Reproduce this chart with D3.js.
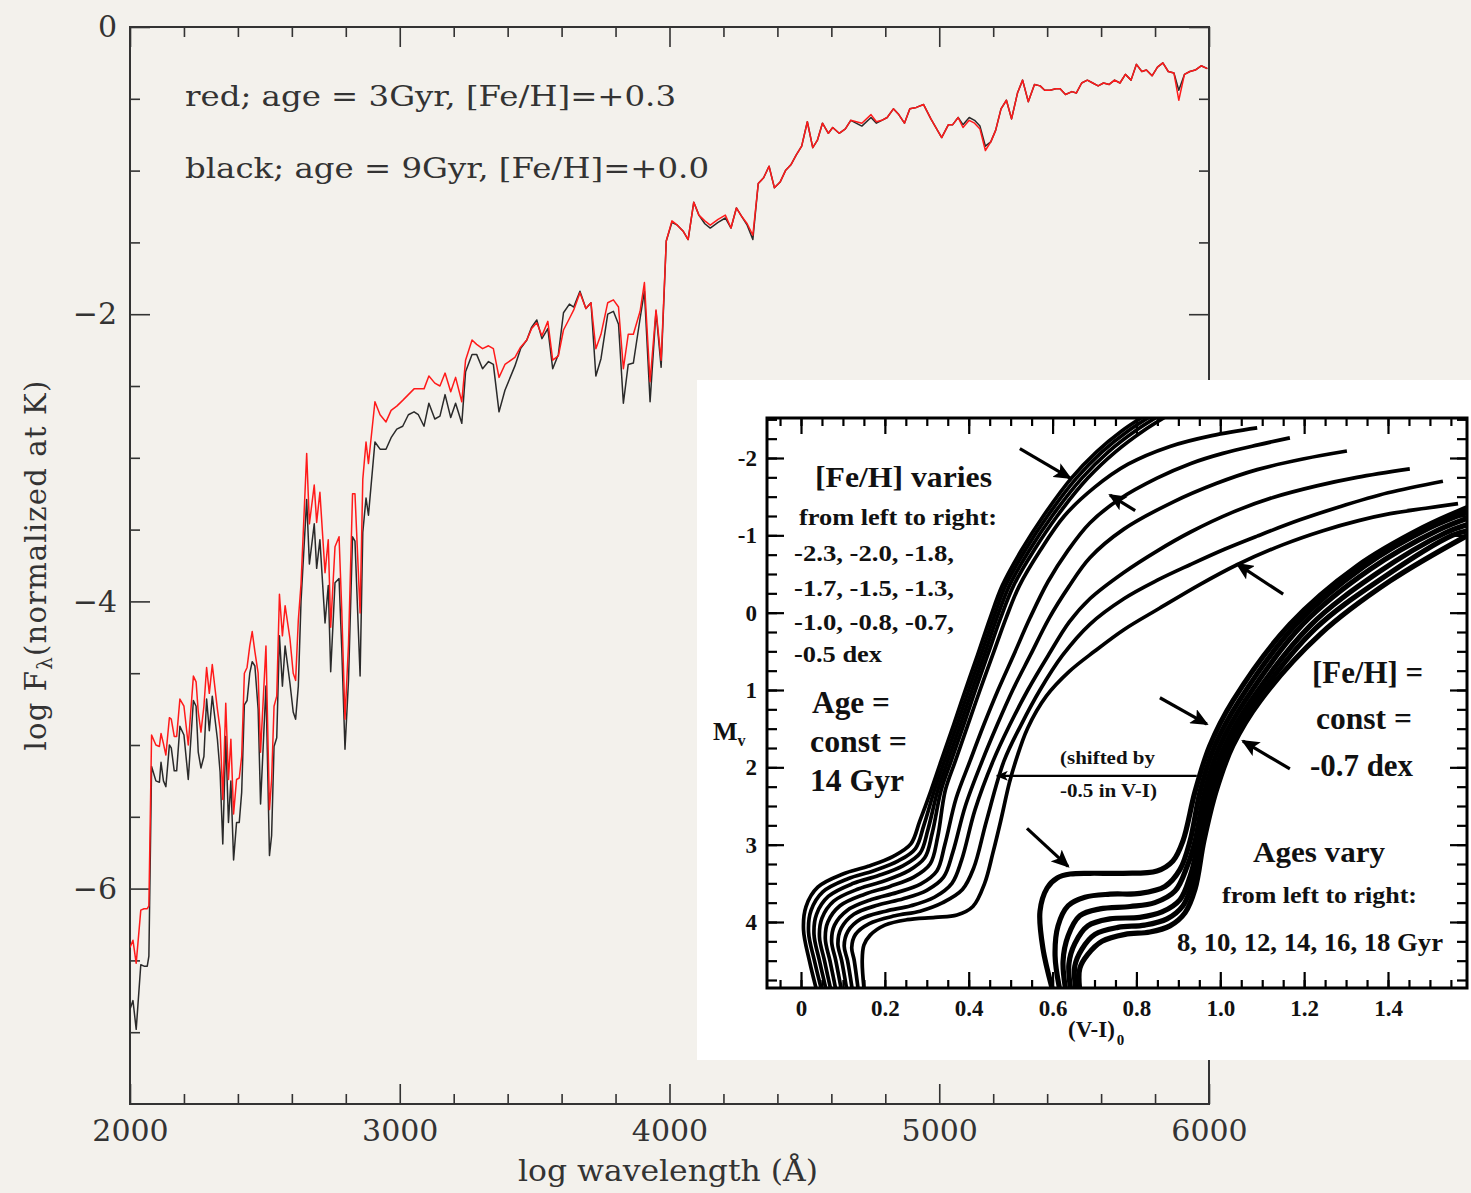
<!DOCTYPE html>
<html lang="en">
<head>
<meta charset="UTF-8">
<title>spectra + isochrones</title>
<script src="https://d3js.org/d3.v7.min.js"></script>
<style>
body{margin:0;background:#f3f1ec;}
</style>
</head>
<body>
<script>
// ---- spectrum data (log wavelength axis labelled in A, log flux normalised at K)
var wave=[
2000,2011,2023,2040,2052,2064,2070,2080,2096,2109,
2115,2124,2133,2146,2153,2164,2173,2185,2200,2216,
2235,2245,2253,2263,2274,2284,2294,2305,2324,2334,
2344,2355,2365,2374,2384,2395,2405,2414,2424,2434,
2444,2453,2463,2475,2484,2504,2517,2525,2534,2544,
2554,2565,2575,2593,2605,2614,2624,2634,2655,2665,
2683,2692,2704,2723,2735,2744,2760,2775,2785,2797,
2810,2825,2834,2853,2863,2875,2884,2908,2927,2949,
2968,2989,3011,3032,3053,3069,3090,3108,3130,3149,
3168,3189,3207,3230,3244,3268,3285,3307,3329,3347,
3368,3390,3427,3448,3471,3489,3508,3527,3549,3567,
3588,3607,3629,3645,3668,3690,3709,3727,3746,3771,
3792,3811,3829,3847,3866,3891,3907,3928,3950,3969,
3988,4009,4029,4050,4069,4090,4109,4131,4151,4180,
4207,4228,4248,4268,4288,4309,4329,4349,4369,4389,
4410,4430,4450,4470,4490,4511,4531,4548,4567,4589,
4605,4629,4652,4672,4713,4747,4767,4787,4807,4830,
4850,4871,4891,4915,4942,4969,5009,5034,5050,5070,
5088,5111,5131,5151,5171,5191,5209,5229,5249,5268,
5290,5309,5330,5353,5374,5391,5411,5432,5448,5468,
5492,5508,5528,5549,5569,5589,5609,5630,5650,5670,
5690,5711,5731,5751,5768,5789,5809,5829,5849,5870,
5888,5909,5929,5949,5971,5994];

// red: age = 3Gyr, [Fe/H]=+0.3
var fluxRed=[
-6.41,-6.36,-6.52,-6.15,-6.14,-6.14,-6.12,-4.93,-5.00,-5.01,
-4.92,-4.99,-5.07,-4.81,-4.82,-4.94,-4.94,-4.68,-4.73,-5.00,
-4.52,-4.56,-4.77,-4.91,-4.73,-4.46,-4.64,-4.44,-4.75,-4.89,
-5.38,-4.71,-5.24,-4.96,-5.48,-5.24,-5.23,-5.08,-4.50,-4.46,
-4.31,-4.21,-4.35,-4.50,-5.05,-4.31,-5.45,-5.24,-4.73,-4.66,
-3.95,-4.24,-4.03,-4.26,-4.50,-4.55,-4.13,-3.88,-2.97,-3.46,
-3.19,-3.45,-3.24,-3.80,-3.57,-4.18,-3.62,-3.55,-4.06,-4.82,
-4.30,-3.25,-3.25,-4.08,-3.15,-2.89,-3.04,-2.61,-2.70,-2.75,
-2.67,-2.64,-2.60,-2.56,-2.52,-2.52,-2.52,-2.43,-2.48,-2.50,
-2.41,-2.54,-2.44,-2.61,-2.32,-2.18,-2.21,-2.24,-2.22,-2.24,
-2.44,-2.35,-2.30,-2.23,-2.18,-2.10,-2.06,-2.15,-2.05,-2.32,
-2.29,-2.11,-2.03,-1.97,-1.85,-1.96,-1.92,-2.24,-2.14,-1.92,
-1.90,-1.95,-2.38,-2.14,-2.14,-1.98,-1.78,-2.47,-1.97,-2.32,
-1.49,-1.35,-1.38,-1.42,-1.48,-1.22,-1.31,-1.35,-1.38,-1.34,
-1.31,-1.40,-1.26,-1.32,-1.37,-1.45,-1.09,-1.05,-0.97,-1.12,
-1.08,-1.00,-0.96,-0.89,-0.83,-0.66,-0.84,-0.79,-0.67,-0.74,
-0.70,-0.74,-0.71,-0.65,-0.67,-0.61,-0.66,-0.65,-0.63,-0.57,
-0.61,-0.67,-0.57,-0.56,-0.54,-0.64,-0.77,-0.68,-0.68,-0.63,
-0.70,-0.65,-0.67,-0.71,-0.86,-0.80,-0.72,-0.57,-0.51,-0.64,
-0.46,-0.37,-0.52,-0.40,-0.41,-0.44,-0.44,-0.43,-0.43,-0.47,
-0.45,-0.46,-0.39,-0.37,-0.39,-0.41,-0.39,-0.40,-0.37,-0.39,
-0.33,-0.37,-0.26,-0.31,-0.30,-0.34,-0.28,-0.25,-0.31,-0.32,
-0.51,-0.33,-0.31,-0.30,-0.27,-0.29];

// black: age = 9Gyr, [Fe/H]=+0.0
var fluxBlack=[
-6.84,-6.78,-6.98,-6.53,-6.54,-6.54,-6.47,-5.15,-5.25,-5.26,
-5.12,-5.25,-5.29,-5.00,-5.02,-5.18,-5.18,-4.87,-4.93,-5.24,
-4.69,-4.73,-5.05,-5.16,-5.08,-4.68,-4.90,-4.66,-4.96,-5.19,
-5.69,-4.94,-5.54,-5.25,-5.80,-5.54,-5.54,-5.33,-4.72,-4.69,
-4.50,-4.42,-4.45,-4.75,-5.41,-4.59,-5.77,-5.63,-5.01,-4.95,
-4.24,-4.59,-4.31,-4.57,-4.77,-4.82,-4.59,-4.00,-3.29,-3.74,
-3.46,-3.77,-3.57,-4.15,-3.89,-4.49,-3.87,-3.84,-4.33,-5.03,
-4.55,-3.55,-3.58,-4.52,-3.52,-3.28,-3.40,-2.89,-2.94,-2.94,
-2.86,-2.80,-2.78,-2.70,-2.68,-2.70,-2.78,-2.62,-2.73,-2.71,
-2.56,-2.72,-2.62,-2.76,-2.40,-2.28,-2.28,-2.38,-2.33,-2.35,
-2.68,-2.53,-2.36,-2.24,-2.18,-2.09,-2.04,-2.17,-2.10,-2.38,
-2.28,-1.99,-1.93,-1.95,-1.84,-1.96,-1.92,-2.43,-2.31,-2.00,
-1.98,-2.07,-2.62,-2.35,-2.34,-2.03,-1.84,-2.61,-1.98,-2.37,
-1.49,-1.36,-1.38,-1.42,-1.48,-1.22,-1.31,-1.37,-1.40,-1.36,
-1.33,-1.40,-1.26,-1.32,-1.38,-1.48,-1.09,-1.05,-0.97,-1.12,
-1.08,-1.00,-0.96,-0.89,-0.83,-0.66,-0.84,-0.79,-0.67,-0.74,
-0.70,-0.74,-0.71,-0.65,-0.69,-0.63,-0.67,-0.65,-0.63,-0.57,
-0.61,-0.67,-0.57,-0.56,-0.54,-0.64,-0.77,-0.68,-0.68,-0.63,
-0.68,-0.63,-0.65,-0.69,-0.83,-0.80,-0.72,-0.57,-0.51,-0.64,
-0.46,-0.37,-0.52,-0.40,-0.41,-0.44,-0.44,-0.43,-0.43,-0.47,
-0.45,-0.46,-0.39,-0.37,-0.39,-0.41,-0.39,-0.40,-0.37,-0.39,
-0.33,-0.37,-0.26,-0.31,-0.30,-0.34,-0.28,-0.25,-0.31,-0.32,
-0.44,-0.33,-0.31,-0.30,-0.27,-0.29];

var xMajor=[2000,3000,4000,5000,6000];
var yMajor=[0,-2,-4,-6];
var legendLines=["red; age = 3Gyr, [Fe/H]=+0.3","black; age = 9Gyr, [Fe/H]=+0.0"];

// ---- inset: isochrones, (V-I)0 vs Mv
// [Fe/H] varies, age 14 Gyr
var fehLabels=["-2.3","-2.0","-1.8","-1.7","-1.5","-1.3","-1.0","-0.8","-0.7","-0.5"];
var fehCurves=[
[[0.038,4.9],[0.020,4.5],[0.006,4.1],[0.012,3.8],[0.040,3.55],[0.100,3.38],[0.160,3.28],[0.220,3.15],[0.262,2.99],[0.283,2.70],[0.310,2.30],[0.334,1.92],[0.364,1.45],[0.392,1.00],[0.421,0.55],[0.451,0.07],[0.480,-0.35],[0.525,-0.80],[0.578,-1.25],[0.645,-1.74],[0.705,-2.08],[0.765,-2.35],[0.835,-2.60]],
[[0.050,4.9],[0.032,4.5],[0.018,4.13],[0.024,3.85],[0.052,3.61],[0.112,3.44],[0.172,3.34],[0.232,3.21],[0.273,3.05],[0.293,2.75],[0.318,2.30],[0.342,1.92],[0.372,1.45],[0.400,1.00],[0.429,0.55],[0.459,0.07],[0.488,-0.35],[0.534,-0.80],[0.588,-1.25],[0.657,-1.74],[0.718,-2.08],[0.780,-2.35],[0.852,-2.60]],
[[0.061,4.9],[0.044,4.5],[0.031,4.16],[0.037,3.90],[0.065,3.67],[0.125,3.50],[0.185,3.40],[0.244,3.27],[0.284,3.11],[0.303,2.80],[0.326,2.30],[0.350,1.92],[0.380,1.45],[0.408,1.00],[0.437,0.55],[0.467,0.07],[0.497,-0.35],[0.544,-0.80],[0.599,-1.25],[0.670,-1.74],[0.733,-2.08],[0.797,-2.35],[0.870,-2.60]],
[[0.072,4.9],[0.056,4.5],[0.044,4.19],[0.050,3.95],[0.078,3.73],[0.138,3.57],[0.198,3.47],[0.256,3.34],[0.295,3.17],[0.313,2.85],[0.334,2.30],[0.358,1.92],[0.388,1.45],[0.416,1.00],[0.445,0.55],[0.476,0.07],[0.507,-0.35],[0.555,-0.80],[0.611,-1.25],[0.684,-1.74],[0.750,-2.08],[0.816,-2.35],[0.890,-2.60]],
[[0.084,4.9],[0.069,4.5],[0.058,4.22],[0.064,4.00],[0.093,3.79],[0.152,3.64],[0.212,3.54],[0.269,3.42],[0.308,3.25],[0.326,2.90],[0.344,2.30],[0.368,1.92],[0.398,1.45],[0.427,1.00],[0.457,0.55],[0.489,0.07],[0.521,-0.35],[0.570,-0.80],[0.628,-1.25],[0.700,-1.62],[0.780,-1.92],[0.880,-2.15],[0.980,-2.29],[1.088,-2.39]],
[[0.097,4.9],[0.083,4.5],[0.073,4.25],[0.080,4.04],[0.110,3.85],[0.168,3.71],[0.228,3.62],[0.285,3.51],[0.324,3.34],[0.343,3.00],[0.370,2.40],[0.403,1.92],[0.436,1.45],[0.470,1.00],[0.507,0.55],[0.546,0.07],[0.589,-0.40],[0.636,-0.80],[0.689,-1.16],[0.760,-1.47],[0.849,-1.74],[0.930,-1.93],[1.006,-2.06],[1.090,-2.17],[1.166,-2.26]],
[[0.110,4.9],[0.097,4.5],[0.088,4.28],[0.096,4.08],[0.126,3.90],[0.184,3.78],[0.244,3.70],[0.300,3.59],[0.340,3.42],[0.362,3.10],[0.392,2.50],[0.432,1.92],[0.468,1.45],[0.505,1.00],[0.547,0.55],[0.592,0.07],[0.638,-0.33],[0.689,-0.71],[0.770,-1.08],[0.887,-1.43],[0.990,-1.67],[1.088,-1.85],[1.200,-1.99],[1.302,-2.09]],
[[0.123,4.9],[0.111,4.5],[0.103,4.31],[0.112,4.12],[0.143,3.96],[0.202,3.86],[0.262,3.79],[0.318,3.68],[0.360,3.50],[0.383,3.20],[0.415,2.55],[0.458,1.92],[0.498,1.45],[0.541,1.00],[0.590,0.55],[0.640,0.12],[0.689,-0.18],[0.770,-0.52],[0.850,-0.80],[0.928,-1.04],[1.030,-1.30],[1.126,-1.49],[1.230,-1.64],[1.326,-1.75],[1.452,-1.86]],
[[0.137,4.9],[0.127,4.5],[0.121,4.33],[0.130,4.16],[0.163,4.02],[0.224,3.92],[0.284,3.86],[0.338,3.75],[0.385,3.58],[0.412,3.30],[0.442,2.70],[0.484,1.92],[0.525,1.45],[0.570,1.00],[0.624,0.55],[0.689,0.15],[0.770,-0.18],[0.850,-0.42],[0.928,-0.62],[1.010,-0.82],[1.088,-0.99],[1.190,-1.20],[1.285,-1.37],[1.400,-1.55],[1.531,-1.70]],
[[0.151,4.9],[0.146,4.5],[0.150,4.30],[0.165,4.17],[0.200,4.04],[0.253,3.97],[0.320,3.94],[0.372,3.91],[0.410,3.80],[0.438,3.50],[0.458,3.10],[0.476,2.70],[0.497,2.20],[0.512,1.92],[0.540,1.50],[0.585,1.08],[0.640,0.76],[0.700,0.50],[0.770,0.22],[0.856,-0.06],[0.950,-0.36],[1.040,-0.62],[1.150,-0.88],[1.245,-1.06],[1.330,-1.19],[1.405,-1.28],[1.490,-1.35],[1.567,-1.41]]
];
// [Fe/H] = -0.7, ages vary (drawn shifted in V-I)
var ageLabels=[8,10,12,14,16,18];
var ageCurves=[
[[0.601,4.9],[0.577,4.34],[0.570,3.86],[0.587,3.56],[0.611,3.43],[0.642,3.38],[0.689,3.37],[0.768,3.37],[0.849,3.34],[0.887,3.21],[0.911,2.95],[0.940,2.31],[0.975,1.72],[1.030,1.14],[1.166,0.15],[1.326,-0.60],[1.483,-1.10],[1.590,-1.36]],
[[0.618,4.9],[0.606,4.44],[0.613,4.05],[0.637,3.79],[0.677,3.68],[0.737,3.64],[0.808,3.63],[0.868,3.54],[0.904,3.32],[0.928,2.95],[0.952,2.31],[0.987,1.72],[1.045,1.14],[1.181,0.15],[1.343,-0.60],[1.500,-1.10],[1.590,-1.30]],
[[0.632,4.9],[0.625,4.51],[0.637,4.18],[0.665,3.92],[0.713,3.83],[0.785,3.80],[0.844,3.75],[0.892,3.60],[0.921,3.28],[0.940,2.95],[0.963,2.31],[0.999,1.72],[1.059,1.14],[1.197,0.15],[1.357,-0.56],[1.517,-1.06],[1.590,-1.22]],
[[0.644,4.9],[0.639,4.54],[0.653,4.28],[0.684,4.05],[0.737,3.96],[0.808,3.94],[0.861,3.87],[0.904,3.71],[0.928,3.41],[0.949,2.95],[0.973,2.31],[1.011,1.72],[1.073,1.14],[1.214,0.17],[1.374,-0.51],[1.536,-1.03],[1.590,-1.14]],
[[0.656,4.9],[0.653,4.57],[0.670,4.35],[0.701,4.16],[0.756,4.07],[0.820,4.04],[0.873,3.96],[0.911,3.79],[0.933,3.50],[0.954,2.95],[0.980,2.31],[1.021,1.72],[1.085,1.14],[1.226,0.21],[1.390,-0.46],[1.553,-1.00],[1.590,-1.06]],
[[0.665,4.9],[0.665,4.60],[0.684,4.42],[0.718,4.25],[0.773,4.16],[0.832,4.13],[0.880,4.05],[0.916,3.88],[0.940,3.57],[0.961,2.95],[0.990,2.31],[1.030,1.72],[1.095,1.14],[1.238,0.28],[1.405,-0.41],[1.590,-1.00]]
];
var cmdXTicks=[0,0.2,0.4,0.6,0.8,1.0,1.2,1.4];
var cmdYTicks=[-2,-1,0,1,2,3,4];
// arrows [tail, head] in (V-I, Mv)
var arrows=[
[[0.522,-2.12],[0.642,-1.74]],
[[0.797,-1.32],[0.737,-1.52]],
[[1.150,-0.24],[1.040,-0.63]],
[[0.856,1.10],[0.968,1.44]],
[[1.166,2.02],[1.054,1.66]],
[[0.539,2.79],[0.637,3.28]]
];
var shiftArrow=[[0.944,2.11],[0.467,2.11]];

// ======================================================================
var svg=d3.select("body").append("svg").attr("width",1471).attr("height",1193);
svg.append("rect").attr("width",1471).attr("height",1193).attr("fill","#f3f1ec");

var x=d3.scaleLinear().domain([2000,6000]).range([130,1209]);
var y=d3.scaleLinear().domain([-7.5,0]).range([1104,27]);
var ink="#333";
var serif="DejaVu Serif";

function tidy(g,fs){
    g.select(".domain").remove();
    g.selectAll("line").attr("stroke",ink).attr("stroke-width",1.6);
    g.selectAll("text").attr("font-family",serif).attr("font-size",fs).attr("fill",ink);
}
var xMinor=d3.range(2000,6001,200).filter(function(d){return d%1000!==0;});
var yMinor=d3.range(-7,0.01,0.5).filter(function(d){return d%2!==0;});

// bottom
svg.append("g").attr("transform","translate(0,1104)")
    .call(d3.axisBottom(x).tickValues(xMajor).tickSizeInner(-20).tickSizeOuter(0).tickPadding(16).tickFormat(d3.format("d")))
    .call(tidy,30);
svg.append("g").attr("transform","translate(0,1104)")
    .call(d3.axisBottom(x).tickValues(xMinor).tickSizeInner(-10).tickSizeOuter(0).tickFormat(""))
    .call(tidy,30);
// top
svg.append("g").attr("transform","translate(0,27)")
    .call(d3.axisTop(x).tickValues(xMajor).tickSizeInner(-20).tickSizeOuter(0).tickFormat(""))
    .call(tidy,30);
svg.append("g").attr("transform","translate(0,27)")
    .call(d3.axisTop(x).tickValues(xMinor).tickSizeInner(-10).tickSizeOuter(0).tickFormat(""))
    .call(tidy,30);
// left
svg.append("g").attr("transform","translate(130,0)")
    .call(d3.axisLeft(y).tickValues(yMajor).tickSizeInner(-20).tickSizeOuter(0).tickPadding(13)
        .tickFormat(function(d){return d===0?"0":"\u2212"+Math.abs(d);}))
    .call(tidy,30);
svg.append("g").attr("transform","translate(130,0)")
    .call(d3.axisLeft(y).tickValues(yMinor).tickSizeInner(-10).tickSizeOuter(0).tickFormat(""))
    .call(tidy,30);
// right
svg.append("g").attr("transform","translate(1209,0)")
    .call(d3.axisRight(y).tickValues(yMajor).tickSizeInner(-20).tickSizeOuter(0).tickFormat(""))
    .call(tidy,30);
svg.append("g").attr("transform","translate(1209,0)")
    .call(d3.axisRight(y).tickValues(yMinor).tickSizeInner(-10).tickSizeOuter(0).tickFormat(""))
    .call(tidy,30);

svg.append("rect").attr("x",130).attr("y",27).attr("width",1079).attr("height",1077)
    .attr("fill","none").attr("stroke",ink).attr("stroke-width",2);

svg.append("clipPath").attr("id","plotClip").append("rect")
    .attr("x",130).attr("y",27).attr("width",1079).attr("height",1077);

var spec=wave.map(function(w,i){return {w:w,r:fluxRed[i],b:fluxBlack[i]};});
var lineB=d3.line().x(function(d){return x(d.w);}).y(function(d){return y(d.b);});
var lineR=d3.line().x(function(d){return x(d.w);}).y(function(d){return y(d.r);});
var pg=svg.append("g").attr("clip-path","url(#plotClip)");
pg.append("path").datum(spec).attr("d",lineB).attr("fill","none").attr("stroke","#2a2a2a").attr("stroke-width",1.5).attr("stroke-linejoin","round");
pg.append("path").datum(spec).attr("d",lineR).attr("fill","none").attr("stroke","#ff1a1a").attr("stroke-width",1.5).attr("stroke-linejoin","round");

// legend text
svg.selectAll("text.leg").data(legendLines).enter().append("text")
    .attr("class","leg").attr("x",185).attr("y",function(d,i){return 106+i*72;})
    .attr("font-family",serif).attr("font-size",28).attr("fill",ink)
    .attr("textLength",function(d,i){return i===0?491:524;}).attr("lengthAdjust","spacingAndGlyphs")
    .attr("xml:space","preserve").text(function(d){return d;});

// axis titles
svg.append("text").attr("x",668).attr("y",1181).attr("text-anchor","middle")
    .attr("font-family",serif).attr("font-size",30).attr("fill",ink)
    .attr("textLength",300).attr("lengthAdjust","spacingAndGlyphs")
    .text("log wavelength (\u00c5)");
var yl=svg.append("text").attr("transform","translate(46,565) rotate(-90)").attr("text-anchor","middle")
    .attr("font-family",serif).attr("font-size",29).attr("letter-spacing",1.2).attr("fill",ink);
yl.append("tspan").text("log F");
yl.append("tspan").attr("font-size",20).attr("dy",6).text("\u03bb");
yl.append("tspan").attr("dy",-6).text("(normalized at K)");

// ======================================================================
// inset
svg.append("rect").attr("x",697).attr("y",380).attr("width",774).attr("height",680).attr("fill","#ffffff");

var cx=d3.scaleLinear().domain([0,1.4]).range([801,1388]);
var cy=d3.scaleLinear().domain([-2,4]).range([458,922]);
var fL=767,fR=1467,fT=418,fB=988;
var bold="Liberation Serif";

svg.append("clipPath").attr("id","cmdClip").append("rect")
    .attr("x",fL).attr("y",fT).attr("width",fR-fL).attr("height",fB-fT);

var cg=svg.append("g").attr("clip-path","url(#cmdClip)");
var iso=d3.line().x(function(d){return cx(d[0]);}).y(function(d){return cy(d[1]);})
    .curve(d3.curveCatmullRom.alpha(0.5));
cg.selectAll("path.feh").data(fehCurves).enter().append("path").attr("class","feh")
    .attr("d",iso).attr("fill","none").attr("stroke","#000").attr("stroke-width",3.7);
cg.selectAll("path.age").data(ageCurves).enter().append("path").attr("class","age")
    .attr("d",iso).attr("fill","none").attr("stroke","#000").attr("stroke-width",5.2);

// CMD ticks
var vMin=cx.invert(fL),vMax=cx.invert(fR);
var cxMinor=d3.range(-0.05,1.61,0.05).filter(function(d){return d>vMin&&d<vMax;});
var mMin=cy.invert(fT),mMax=cy.invert(fB);
var cyMinor=d3.range(-2.5,4.9,0.25).filter(function(d){return d>mMin&&d<mMax;});
function cmdTidy(g){
    g.select(".domain").remove();
    g.selectAll("line").attr("stroke","#000").attr("stroke-width",2.2);
    g.selectAll("text").attr("font-family",bold).attr("font-weight","bold").attr("font-size",23).attr("fill","#111");
}
svg.append("g").attr("transform","translate(0,"+fB+")")
    .call(d3.axisBottom(cx).tickValues(cxMinor).tickSizeInner(-8).tickSizeOuter(0).tickFormat("")).call(cmdTidy);
svg.append("g").attr("transform","translate(0,"+fB+")")
    .call(d3.axisBottom(cx).tickValues(cmdXTicks).tickSizeInner(-16).tickSizeOuter(0).tickPadding(12)
        .tickFormat(function(d){return d===0?"0":d.toFixed(1);})).call(cmdTidy);
svg.append("g").attr("transform","translate(0,"+fT+")")
    .call(d3.axisTop(cx).tickValues(cxMinor).tickSizeInner(-8).tickSizeOuter(0).tickFormat("")).call(cmdTidy);
svg.append("g").attr("transform","translate(0,"+fT+")")
    .call(d3.axisTop(cx).tickValues(cmdXTicks).tickSizeInner(-16).tickSizeOuter(0).tickFormat("")).call(cmdTidy);
svg.append("g").attr("transform","translate("+fL+",0)")
    .call(d3.axisLeft(cy).tickValues(cyMinor).tickSizeInner(-10).tickSizeOuter(0).tickFormat("")).call(cmdTidy);
svg.append("g").attr("transform","translate("+fL+",0)")
    .call(d3.axisLeft(cy).tickValues(cmdYTicks).tickSizeInner(-17).tickSizeOuter(0).tickPadding(10)
        .tickFormat(function(d){return String(d);})).call(cmdTidy);
svg.append("g").attr("transform","translate("+fR+",0)")
    .call(d3.axisRight(cy).tickValues(cyMinor).tickSizeInner(-10).tickSizeOuter(0).tickFormat("")).call(cmdTidy);
svg.append("g").attr("transform","translate("+fR+",0)")
    .call(d3.axisRight(cy).tickValues(cmdYTicks).tickSizeInner(-17).tickSizeOuter(0).tickFormat("")).call(cmdTidy);

svg.append("rect").attr("x",fL).attr("y",fT).attr("width",fR-fL).attr("height",fB-fT)
    .attr("fill","none").attr("stroke","#000").attr("stroke-width",3);

// arrows
var defs=svg.append("defs");
defs.append("marker").attr("id","ah").attr("markerUnits","userSpaceOnUse")
    .attr("viewBox","0 -8 18 16").attr("refX",16).attr("refY",0)
    .attr("markerWidth",18).attr("markerHeight",16).attr("orient","auto")
    .append("path").attr("d","M0,-8L18,0L0,8L4,0Z").attr("fill","#000");
defs.append("marker").attr("id","ahs").attr("markerUnits","userSpaceOnUse")
    .attr("viewBox","0 -5 12 10").attr("refX",11).attr("refY",0)
    .attr("markerWidth",12).attr("markerHeight",10).attr("orient","auto")
    .append("path").attr("d","M0,-5L12,0L0,5L3,0Z").attr("fill","#000");

svg.selectAll("line.arr").data(arrows).enter().append("line").attr("class","arr")
    .attr("x1",function(d){return cx(d[0][0]);}).attr("y1",function(d){return cy(d[0][1]);})
    .attr("x2",function(d){return cx(d[1][0]);}).attr("y2",function(d){return cy(d[1][1]);})
    .attr("stroke","#000").attr("stroke-width",3.2).attr("marker-end","url(#ah)");
svg.append("line")
    .attr("x1",cx(shiftArrow[0][0])).attr("y1",cy(shiftArrow[0][1]))
    .attr("x2",cx(shiftArrow[1][0])).attr("y2",cy(shiftArrow[1][1]))
    .attr("stroke","#000").attr("stroke-width",2.2).attr("marker-end","url(#ahs)");

// inset annotations
var notes=[
 {t:"[Fe/H] varies",x:815,y:487,s:30,w:177},
 {t:"from left to right:",x:799,y:525,s:24,w:198},
 {t:"-2.3, -2.0, -1.8,",x:794,y:561,s:24,w:160},
 {t:"-1.7, -1.5, -1.3,",x:794,y:596,s:24,w:160},
 {t:"-1.0, -0.8, -0.7,",x:794,y:630,s:24,w:160},
 {t:"-0.5 dex",x:794,y:662,s:24,w:88},
 {t:"Age =",x:812,y:713,s:31,w:78},
 {t:"const =",x:810,y:752,s:31,w:97},
 {t:"14 Gyr",x:810,y:791,s:31,w:94},
 {t:"(shifted by",x:1060,y:764,s:18,w:95},
 {t:"-0.5 in V-I)",x:1060,y:797,s:18,w:97},
 {t:"[Fe/H] =",x:1312,y:683,s:31,w:111},
 {t:"const =",x:1316,y:729,s:31,w:96},
 {t:"-0.7 dex",x:1310,y:776,s:31,w:103},
 {t:"Ages vary",x:1253,y:862,s:30,w:132},
 {t:"from left to right:",x:1222,y:903,s:24,w:195},
 {t:"8, 10, 12, 14, 16, 18 Gyr",x:1177,y:951,s:25,w:266}
];
svg.selectAll("text.note").data(notes).enter().append("text").attr("class","note")
    .attr("x",function(d){return d.x;}).attr("y",function(d){return d.y;})
    .attr("font-family",bold).attr("font-weight","bold").attr("fill","#111")
    .attr("font-size",function(d){return d.s;})
    .attr("textLength",function(d){return d.w;}).attr("lengthAdjust","spacingAndGlyphs")
    .text(function(d){return d.t;});

var mv=svg.append("text").attr("x",713).attr("y",740).attr("font-family",bold).attr("font-weight","bold")
    .attr("font-size",26).attr("fill","#111");
mv.append("tspan").text("M");
mv.append("tspan").attr("font-size",16).attr("dy",6).text("v");
var vi=svg.append("text").attr("x",1068).attr("y",1037).attr("font-family",bold).attr("font-weight","bold")
    .attr("font-size",23).attr("fill","#111");
vi.append("tspan").text("(V-I)");
vi.append("tspan").attr("font-size",15).attr("dy",8).attr("dx",2).text("0");
</script>
</body>
</html>
